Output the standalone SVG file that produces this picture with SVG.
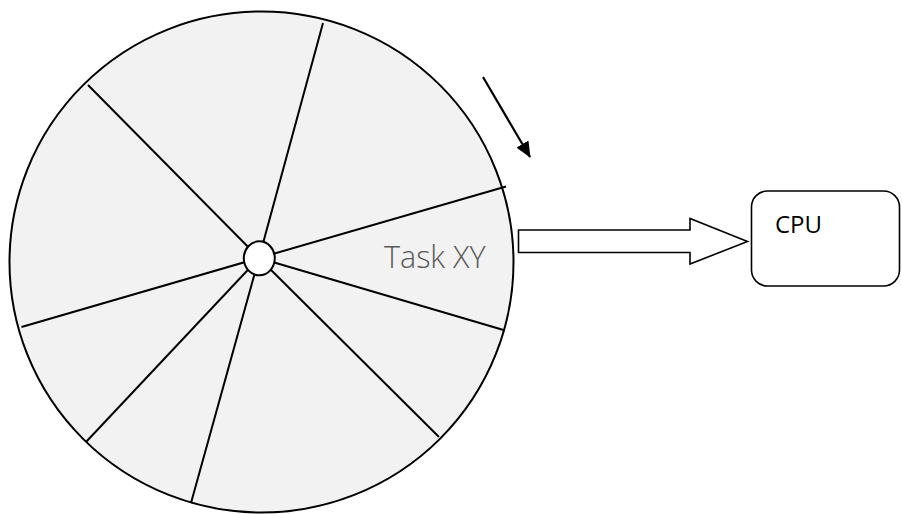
<svg xmlns="http://www.w3.org/2000/svg" width="902" height="514" viewBox="0 0 902 514">
  <defs>
    <marker id="head" markerWidth="16" markerHeight="14" refX="15" refY="7" orient="auto" markerUnits="userSpaceOnUse" viewBox="0 0 16 14">
      <path d="M0,0 L16,7 L0,14 Z" fill="#000"/>
    </marker>
    <style>
      .wheel { fill: #f2f2f2; stroke: #000; stroke-width: 2; }
      .spoke { stroke: #000; stroke-width: 2; fill: none; }
      .hub { fill: #fff; stroke: #000; stroke-width: 2; }
      .block { fill: #fff; stroke: #000; stroke-width: 1.6; stroke-linejoin: miter; }
      .label { font-family: "Open Sans", "Liberation Sans", sans-serif; }
    </style>
  </defs>
  <rect width="902" height="514" fill="#fff"/>

  <!-- task wheel -->
  <g id="wheel">
    <ellipse class="wheel" cx="261.5" cy="262" rx="252" ry="250.5"/>
    <g class="spokes">
      <line class="spoke" x1="259" y1="258" x2="323" y2="23"/>
      <line class="spoke" x1="259" y1="258" x2="88" y2="85"/>
      <line class="spoke" x1="259" y1="258" x2="506" y2="186.5"/>
      <line class="spoke" x1="259" y1="258" x2="21.5" y2="327"/>
      <line class="spoke" x1="259" y1="258" x2="86" y2="442"/>
      <line class="spoke" x1="259" y1="258" x2="191" y2="503"/>
      <line class="spoke" x1="259" y1="258" x2="439" y2="437"/>
      <line class="spoke" x1="259" y1="258" x2="503.5" y2="330"/>
    </g>
    <ellipse class="hub" cx="259.3" cy="258.3" rx="15.5" ry="17"/>
    <text class="label" x="384" y="268" font-size="30.5" font-weight="300" fill="#595959">Task XY</text>
  </g>

  <!-- CPU -->
  <g id="cpu">
    <rect x="751.5" y="191" width="148" height="95" rx="16" ry="16" fill="#fff" stroke="#000" stroke-width="1.6"/>
    <text class="label" x="775" y="233" font-size="24" fill="#000">CPU</text>
  </g>

  <!-- connectors -->
  <g id="connectors">
    <polygon class="block" points="518.5,230 690,230 690,218.5 747.5,241.5 690,264 690,252.5 518.5,252.5"/>
    <line x1="483" y1="77" x2="530" y2="157" stroke="#000" stroke-width="2.2" marker-end="url(#head)"/>
  </g>
</svg>
